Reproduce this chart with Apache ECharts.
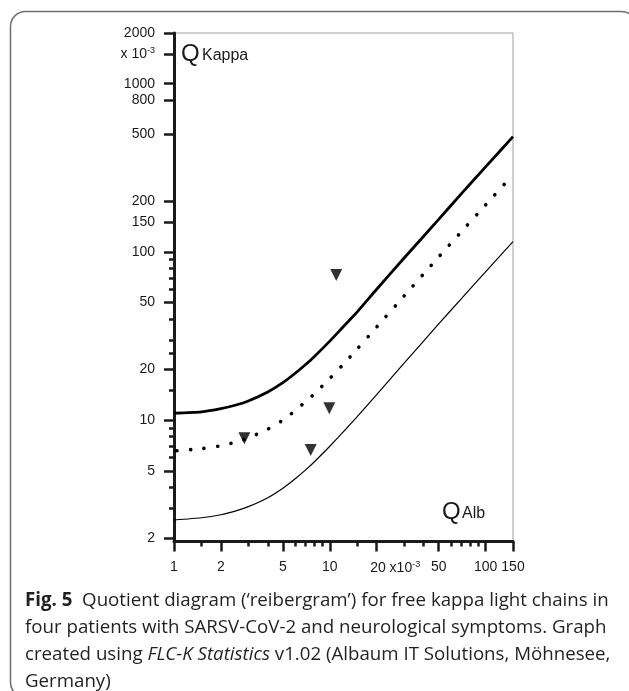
<!DOCTYPE html>
<html>
<head>
<meta charset="utf-8">
<script src="https://cdn.jsdelivr.net/npm/echarts@6/dist/echarts.min.js"></script>
<style>
  html, body { margin: 0; padding: 0; background: #fff; }
  #chart { width: 629px; height: 691px; }
</style>
</head>
<body>
<div id="chart"></div>
<script>
// Reibergram for free kappa light chains (values in units of 10^-3)
const xMajorTicks = [1, 2, 5, 10, 20, 50, 100, 150];
const xMinorTicks = [1.5, 3, 4, 6, 7, 8, 9, 15, 30, 40, 60, 70, 80, 90];
const yMajorTicks = [2, 5, 10, 20, 50, 100, 150, 200, 500, 800, 1000, 1500, 2000];
const yMinorTicks = [3, 4, 6, 7, 8, 9, 15, 25, 30, 40, 60, 70, 80, 90];

// Q_Alb positions along the reference curves
const qAlb = [1, 1.5, 2, 2.5, 3, 4, 5, 6, 7, 8, 10, 12, 15, 20, 30, 50, 70, 100, 150];
const upperLimit = [11.0, 11.2, 11.7, 12.3, 13.0, 14.7, 16.7, 19.0, 21.4, 24.0, 29.5, 35.3, 44, 60, 92, 156, 222, 320, 484];
const meanLine = [6.56, 6.77, 7.05, 7.41, 7.83, 8.84, 10.0, 11.4, 12.9, 14.4, 17.7, 21.1, 26.5, 35.8, 54.7, 93.3, 132, 190, 288];
const lowerLimit = [2.55, 2.63, 2.74, 2.89, 3.06, 3.46, 3.94, 4.48, 5.06, 5.68, 7.0, 8.37, 10.5, 14.2, 21.8, 37.3, 52.8, 76.1, 115];

// Patients
const patientQAlb = [11.0, 2.83, 7.54, 9.93];
const patientQKappa = [72.9, 7.8, 6.64, 11.76];

const pair = (xs, ys) => xs.map((x, i) => [x, ys[i]]);

const AXIS_FONT = '"Liberation Sans", Arial, Helvetica, sans-serif';
const CAP_FONT = '"Open Sans", "Noto Sans", sans-serif';
const CAP_SIZE = 18.7;
const INK = '#1a1a1a';
const TEXT = '#231f20';

const chart = echarts.init(document.getElementById('chart'), null, { renderer: 'canvas' });

function xLabel(v) {
  const r = Math.round(v * 10) / 10;
  if (r === 20) return '{pad|}20{u| x10}{s|-3}';
  return String(r);
}
function yLabel(v) {
  const r = Math.round(v);
  if (r === 1500) return 'x 10{s|-3}';
  return String(r);
}

const labelRich = {
  pad: { width: 37, fontSize: 14, fontFamily: AXIS_FONT },
  u: { fontSize: 14, fontFamily: AXIS_FONT, color: INK },
  s: { fontSize: 9, fontFamily: AXIS_FONT, color: INK, padding: [0, 0, 7, 0] }
};

const capLine = (text, y) => ({
  type: 'text',
  left: 25,
  top: y,
  style: {
    text: text,
    fill: TEXT,
    fontFamily: CAP_FONT,
    fontSize: CAP_SIZE,
    rich: {
      b: { fontFamily: CAP_FONT, fontSize: CAP_SIZE, fontWeight: 'bold', fill: TEXT },
      i: { fontFamily: CAP_FONT, fontSize: CAP_SIZE, fontStyle: 'italic', fill: TEXT },
      n: { fontFamily: CAP_FONT, fontSize: CAP_SIZE, fill: TEXT }
    }
  }
});

const option = {
  animation: false,
  backgroundColor: '#fff',
  grid: {
    left: 174, top: 33, right: 116, bottom: 149.5,
    show: true, borderColor: '#a0a0a0', borderWidth: 1, containLabel: false
  },
  xAxis: [
    {
      type: 'log', logBase: 10, min: 1, max: 150, position: 'bottom',
      axisLine: { show: true, lineStyle: { color: INK, width: 3 } },
      axisTick: { show: true, customValues: xMajorTicks, length: 10, lineStyle: { color: INK, width: 2.5 } },
      axisLabel: {
        customValues: xMajorTicks, formatter: xLabel, margin: 19,
        fontFamily: AXIS_FONT, fontSize: 14, color: INK, rich: labelRich
      },
      splitLine: { show: false }, minorTick: { show: false }
    },
    {
      type: 'log', logBase: 10, min: 1, max: 150, position: 'bottom',
      axisLine: { show: false },
      axisTick: { show: true, customValues: xMinorTicks, length: 5, lineStyle: { color: INK, width: 2.5 } },
      axisLabel: { show: false },
      splitLine: { show: false }
    }
  ],
  yAxis: [
    {
      type: 'log', logBase: 10, min: 1.9, max: 2000, position: 'left',
      axisLine: { show: true, lineStyle: { color: INK, width: 3 } },
      axisTick: { show: true, customValues: yMajorTicks, length: 10, lineStyle: { color: INK, width: 2.5 } },
      axisLabel: {
        customValues: yMajorTicks, formatter: yLabel, margin: 19,
        fontFamily: AXIS_FONT, fontSize: 14, color: INK, rich: labelRich
      },
      splitLine: { show: false }
    },
    {
      type: 'log', logBase: 10, min: 1.9, max: 2000, position: 'left',
      axisLine: { show: false },
      axisTick: { show: true, customValues: yMinorTicks, length: 5, lineStyle: { color: INK, width: 2.5 } },
      axisLabel: { show: false },
      splitLine: { show: false }
    }
  ],
  series: [
    {
      name: 'upper', type: 'line', data: pair(qAlb, upperLimit),
      showSymbol: false, smooth: 0.2, clip: true,
      lineStyle: { color: '#000', width: 2.8 }
    },
    {
      name: 'mean', type: 'line', data: pair(qAlb, meanLine),
      showSymbol: false, smooth: 0.2, clip: true,
      lineStyle: { color: '#000', width: 3.6, type: [0.1, 13.5], cap: 'round', dashOffset: -3 }
    },
    {
      name: 'lower', type: 'line', data: pair(qAlb, lowerLimit),
      showSymbol: false, smooth: 0.2, clip: true,
      lineStyle: { color: '#000', width: 1.2 }
    },
    {
      name: 'patients', type: 'scatter', data: pair(patientQAlb, patientQKappa),
      symbol: 'triangle', symbolRotate: 180, symbolSize: [12, 12],
      itemStyle: { color: '#000' }
    }
  ],
  graphic: [
    {
      type: 'rect', silent: true, z: -1,
      shape: { x: 10.5, y: 11.5, width: 626, height: 686, r: 15 },
      style: { fill: 'none', stroke: '#6e6e6e', lineWidth: 1.5 }
    },
    { type: 'text', left: 181, top: 42, style: { text: 'Q', fontFamily: AXIS_FONT, fontSize: 24, fill: INK } },
    { type: 'text', left: 202, top: 48, style: { text: 'Kappa', fontFamily: AXIS_FONT, fontSize: 16, fill: INK } },
    { type: 'text', left: 442, top: 500, style: { text: 'Q', fontFamily: AXIS_FONT, fontSize: 24, fill: INK } },
    { type: 'text', left: 462, top: 506, style: { text: 'Alb', fontFamily: AXIS_FONT, fontSize: 16, fill: INK } },
    capLine('{b|Fig. 5}{n|  Quotient diagram (‘reibergram’) for free kappa light chains in}', 591),
    capLine('{n|four patients with SARSV-CoV-2 and neurological symptoms. Graph}', 618),
    capLine('{n|created using }{i|FLC-K Statistics}{n| v1.02 (Albaum IT Solutions, Möhnesee,}', 645),
    capLine('{n|Germany)}', 672)
  ]
};

chart.setOption(option);
</script>
</body>
</html>
